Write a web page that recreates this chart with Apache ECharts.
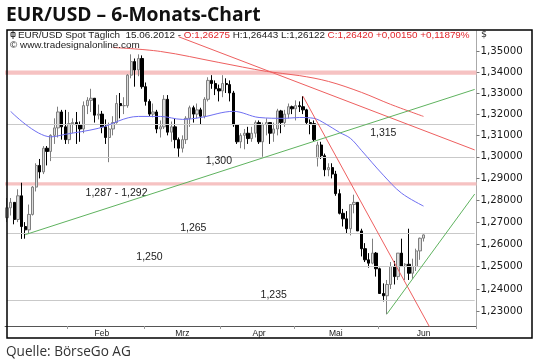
<!DOCTYPE html>
<html><head><meta charset="utf-8">
<script src="https://cdn.jsdelivr.net/npm/echarts@6/dist/echarts.min.js"></script>
<style>html,body{margin:0;padding:0;background:#fff}#c{width:535px;height:364px}</style>
</head><body><div id="c"></div>
<script>
// ---- data: EUR/USD daily candles, 09.01.2012 - 15.06.2012 (weekdays) ----
const opens = [
 1.2720,1.2765,1.2790,1.2712,1.2820, 1.2680,1.2665,1.2735,1.2860,1.2960,
 1.2930,1.3040,1.3025,1.3100,1.3135, 1.3210,1.3140,1.3080,1.3155,1.3160,
 1.3150,1.3130,1.3240,1.3265,1.3275, 1.3195,1.3200,1.3140,1.3090,1.3130,
 1.3160,1.3250,1.3240,1.3240,1.3385, 1.3450,1.3410,1.3465,1.3330,1.3260,
 1.3200,1.3210,1.3130,1.3140,1.3270, 1.3115,1.3140,1.3080,1.3040,1.3080,
 1.3180,1.3230,1.3200,1.3220,1.3190, 1.3270,1.3360,1.3345,1.3320,1.3310,
 1.3345,1.3340,1.3300,1.3150,1.3070, 1.3100,1.3110,1.3085,1.3110,1.3160,
 1.3070,1.3150,1.3160,1.3110,1.3130, 1.3215,1.3160,1.3200,1.3235,1.3225,
 1.3240,1.3235,1.3220,1.3160,1.3155, 1.2995,1.3055,1.3005,1.2940,1.2950,
 1.2920,1.2830,1.2740,1.2715,1.2670, 1.2780,1.2790,1.2660,1.2580,1.2530,
 1.2515,1.2560,1.2490,1.2380,1.2370, 1.2420,1.2500,1.2455,1.2560,1.2500,
 1.2510,1.2470,1.2500,1.2570,1.26275
];
const highs = [
 1.2810,1.2810,1.2790,1.2850,1.2880, 1.2700,1.2780,1.2865,1.2970,1.2990,
 1.3050,1.3050,1.3105,1.3180,1.3235, 1.3220,1.3220,1.3210,1.3180,1.3210,
 1.3165,1.3260,1.3280,1.3320,1.3275, 1.3245,1.3215,1.3175,1.3160,1.3190,
 1.3290,1.3300,1.3280,1.3390,1.3485, 1.3465,1.3485,1.3480,1.3350,1.3270,
 1.3250,1.3220,1.3170,1.3290,1.3290, 1.3165,1.3180,1.3090,1.3100,1.3190,
 1.3240,1.3240,1.3250,1.3230,1.3280, 1.3375,1.3385,1.3360,1.3340,1.3385,
 1.3370,1.3360,1.3310,1.3150,1.3110, 1.3130,1.3140,1.3140,1.3170,1.3170,
 1.3160,1.3180,1.3160,1.3160,1.3225, 1.3220,1.3220,1.3250,1.3240,1.3265,
 1.3260,1.3285,1.3225,1.3175,1.3170, 1.3070,1.3070,1.3015,1.2970,1.2970,
 1.2935,1.2850,1.2760,1.2750,1.2780, 1.2825,1.2790,1.2670,1.2605,1.2560,
 1.2625,1.2565,1.2495,1.2425,1.2440, 1.2520,1.2525,1.2560,1.2625,1.2515,
 1.2670,1.2535,1.2580,1.2630,1.26443
];
const lows = [
 1.2700,1.2730,1.2690,1.2700,1.2624, 1.2625,1.2650,1.2730,1.2840,1.2900,
 1.2920,1.2960,1.2980,1.3060,1.3090, 1.3080,1.3060,1.3060,1.3110,1.3060,
 1.3070,1.3110,1.3200,1.3210,1.3160, 1.3175,1.3110,1.3060,1.2975,1.3100,
 1.3155,1.3180,1.3200,1.3230,1.3370, 1.3330,1.3380,1.3320,1.3240,1.3190,
 1.3185,1.3110,1.3090,1.3130,1.3100, 1.3070,1.3040,1.3000,1.3020,1.3060,
 1.3140,1.3160,1.3180,1.3150,1.3180, 1.3260,1.3320,1.3290,1.3260,1.3280,
 1.3300,1.3260,1.3140,1.3060,1.3040, 1.3035,1.3060,1.3070,1.3090,1.3060,
 1.3000,1.3100,1.3060,1.3070,1.3100, 1.3110,1.3140,1.3180,1.3200,1.3170,
 1.3210,1.3200,1.3150,1.3105,1.3070, 1.2955,1.2990,1.2910,1.2910,1.2900,
 1.2820,1.2735,1.2680,1.2650,1.2640, 1.2740,1.2660,1.2545,1.2520,1.2495,
 1.2510,1.2455,1.2380,1.2345,1.2288, 1.2400,1.2420,1.2440,1.2500,1.2440,
 1.2440,1.2445,1.2480,1.2530,1.26122
];
const closes = [
 1.2765,1.2790,1.2712,1.2820,1.2680, 1.2665,1.2735,1.2860,1.2960,1.2930,
 1.3040,1.3025,1.3100,1.3135,1.3210, 1.3140,1.3080,1.3155,1.3160,1.3150,
 1.3130,1.3240,1.3265,1.3275,1.3195, 1.3200,1.3140,1.3090,1.3130,1.3160,
 1.3250,1.3240,1.3240,1.3385,1.3450, 1.3410,1.3465,1.3330,1.3260,1.3200,
 1.3210,1.3130,1.3140,1.3270,1.3115, 1.3140,1.3080,1.3040,1.3080,1.3180,
 1.3230,1.3200,1.3220,1.3190,1.3270, 1.3360,1.3345,1.3320,1.3310,1.3345,
 1.3340,1.3300,1.3150,1.3070,1.3100, 1.3110,1.3085,1.3110,1.3160,1.3070,
 1.3150,1.3160,1.3110,1.3130,1.3215, 1.3160,1.3200,1.3235,1.3225,1.3240,
 1.3235,1.3220,1.3160,1.3155,1.3080, 1.3055,1.3005,1.2940,1.2950,1.2920,
 1.2830,1.2740,1.2715,1.2670,1.2780, 1.2790,1.2660,1.2580,1.2530,1.2515,
 1.2560,1.2490,1.2380,1.2370,1.2420, 1.2500,1.2455,1.2560,1.2500,1.2510,
 1.2470,1.2500,1.2570,1.2627,1.26420
];
// moving averages: [candle index, value]
const maBlue = [[1,1.3213],[12,1.3093],[16,1.3105],[25,1.3133],[36,1.3189],[42,1.3189],[48,1.3175],
 [53,1.3184],[62,1.3213],[69,1.3184],[76,1.3180],[80,1.3184],[84,1.3180],[87,1.3156],[91,1.3114],
 [94,1.3086],[97,1.3030],[103,1.2915],[108,1.2832],[114,1.2773]];
const maRed = [[29,1.3518],[42,1.3499],[58,1.3446],[71,1.3403],[80,1.3383],[88,1.3355],[97,1.3303],[105,1.3246],[114,1.3189]];
// trend lines: two anchor points each [candle index, value]
const trendRedLong = [[47,1.3570],[128,1.3032]];
const trendRedSteep = [[81,1.3285],[116,1.2223]];
const trendGreenLong = [[5,1.2643],[128,1.3317]];
const trendGreenSteep = [[104,1.2290],[128,1.2828]];
// support / resistance
const bands = [[1.3387,1.3407],[1.2867,1.2882]];
const levelLines = [1.315,1.300,1.265,1.250,1.235];
const levelStart = [0,12,0,0,0];
const levelText = ['1,315','1,300','1,287 - 1,292','1,265','1,250','1,235'];
const levelTextAt = [[103,1.3109],[58,1.2979],[30,1.2832],[51,1.2673],[39,1.2542],[73,1.2374]];
// axes
const yTicks = [1.23,1.24,1.25,1.26,1.27,1.28,1.29,1.30,1.31,1.32,1.33,1.34,1.35];
const monthLabels = ['Feb','Mrz','Apr','Mai','Jun'];
const monthLabelIdx = [26,48,69,90,114];
const monthTickIdx = [17,38,59,79,102];
const padSlots = 14;

function makeDates(n){
  const out=[]; const d=new Date(Date.UTC(2012,0,9));
  const p=v=>(v<10?'0':'')+v;
  while(out.length<n){const w=d.getUTCDay(); if(w!==0&&w!==6) out.push(p(d.getUTCDate())+'.'+p(d.getUTCMonth()+1)+'.'+d.getUTCFullYear()); d.setUTCDate(d.getUTCDate()+1);}
  return out;
}
const categories = makeDates(opens.length + padSlots);
const lastIdx = opens.length - 1;
const fmt = v => v.toFixed(5).replace('.', ',');
const chg = closes[lastIdx] - closes[lastIdx-1];
const pct = chg / closes[lastIdx-1] * 100;

const FF = 'Liberation Sans, Arial, sans-serif';
const FV = '"DejaVu Sans", Verdana, sans-serif';
const chart = echarts.init(document.getElementById('c'), null, {renderer:'canvas'});
const trend = (data, color) => ({type:'line', data, showSymbol:false, symbol:'none', z:5, silent:true,
  lineStyle:{color, width:1}, animation:false});
const ma = (data, color) => ({type:'line', data, showSymbol:false, symbol:'none', z:5, silent:true, smooth:0.35,
  lineStyle:{color, width:1}, animation:false});

chart.setOption({
  animation:false,
  backgroundColor:'#ffffff',
  grid:{left:5.1, top:31, width:471.4, height:295, containLabel:false},
  xAxis:{type:'category', data:categories, boundaryGap:true,
    axisLine:{show:true, lineStyle:{color:'#555', width:1}},
    axisTick:{show:true, length:3, interval:(i)=>monthTickIdx.includes(i), lineStyle:{color:'#999'}},
    axisLabel:{interval:(i)=>monthLabelIdx.includes(i), formatter:(v,i)=>monthLabels[monthLabelIdx.indexOf(i)]||'',
      fontSize:8.5, color:'#222', margin:3, fontFamily:FF},
    splitLine:{show:false}},
  yAxis:{type:'log', logBase:10, min:1.2237, max:1.3598, position:'right',
    axisLine:{show:true, lineStyle:{color:'#aaa'}},
    axisTick:{show:true, customValues:yTicks, length:3, lineStyle:{color:'#777'}},
    axisLabel:{customValues:yTicks, formatter:(v)=>fmt(v), fontSize:10.2, color:'#1a1a1a', margin:4, fontFamily:FV},
    splitLine:{show:false}},
  series:[
    {type:'line', data:[], z:1, silent:true,
      markArea:{silent:true, itemStyle:{color:'#f6c2c2'}, data: bands.map(b=>[{yAxis:b[0]},{yAxis:b[1]}])},
      markLine:{silent:true, symbol:['none','none'], label:{show:false},
        lineStyle:{color:'#c9c9c9', width:1, type:'solid'},
        data: levelLines.map((v,i)=>[{coord:[levelStart[i], v]},{coord:[categories.length-1, v]}])}
    },
    {type:'candlestick', z:3, barWidth:2.8, silent:true,
      data: opens.map((o,i)=>[o, closes[i], lows[i], highs[i]]),
      itemStyle:{color:'#dcdcdc', borderColor:'#7f7f7f', color0:'#000000', borderColor0:'#000000', borderWidth:1}},
    ma(maBlue, '#6f6ff2'),
    ma(maRed, '#ee5f5f'),
    trend(trendRedLong, '#ee5f5f'),
    trend(trendRedSteep, '#ee5f5f'),
    trend(trendGreenLong, '#5fb35f'),
    trend(trendGreenSteep, '#5fb35f'),
    {type:'line', data:[], z:8, silent:true,
      markPoint:{silent:true, symbol:'circle', symbolSize:1, itemStyle:{color:'rgba(0,0,0,0)'},
        label:{show:true, position:'inside', formatter:'{b}', color:'#222', fontSize:10.5, fontFamily:FF},
        data: levelText.map((t,i)=>({name:t, coord:levelTextAt[i]}))}
    }
  ],
  graphic:[
    {type:'text', x:6, y:16, style:{text:'EUR/USD – 6-Monats-Chart', font:'bold 19.3px "Open Sans", sans-serif', fill:'#111', verticalAlign:'middle'}},
    {type:'text', x:6, y:352, style:{text:'Quelle: BörseGo AG', font:'13.6px "Open Sans", sans-serif', fill:'#333', verticalAlign:'middle'}},
    {type:'rect', shape:{x:11, y:32.5, width:4, height:4}, style:{fill:'none', stroke:'#333', lineWidth:1}, z:20},
    {type:'line', shape:{x1:13, y1:30.5, x2:13, y2:39}, style:{stroke:'#333', lineWidth:1}, z:20},
    {type:'text', x:18, y:35, z:20, style:{
      text:'{d|EUR/USD Spot Täglich  '+categories[lastIdx]+' - }{r|O:'+fmt(opens[lastIdx])+'} {d|H:'+fmt(highs[lastIdx])+' L:'+fmt(lows[lastIdx])+'} {r|C:'+fmt(closes[lastIdx])+' +'+fmt(chg)+' +'+fmt(pct)+'%}',
      verticalAlign:'middle', font:'9.9px '+FF,
      rich:{d:{fill:'#222', font:'9.9px '+FF}, r:{fill:'#e0262b', font:'9.9px '+FF}}}},
    {type:'text', x:10, y:45, z:20, style:{text:'© www.tradesignalonline.com', font:'9.9px '+FF, fill:'#222', verticalAlign:'middle'}},
    {type:'text', x:481, y:35, z:20, style:{text:'$', font:'9.5px '+FV, fill:'#222', verticalAlign:'middle'}},
    {type:'rect', shape:{x:7, y:30, width:525, height:308}, style:{fill:'none', stroke:'#000', lineWidth:1.5}, z:30}
  ]
});
</script></body></html>
